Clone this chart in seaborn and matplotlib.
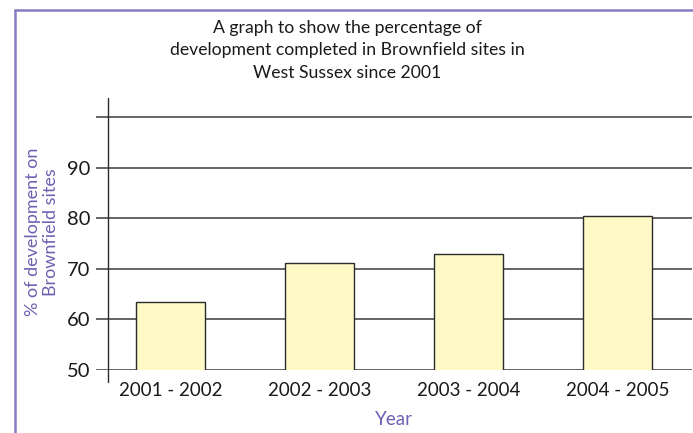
import matplotlib
matplotlib.use("Agg")
import matplotlib.pyplot as plt
import pandas as pd
import seaborn as sns
from matplotlib.lines import Line2D

periods = ["2001 - 2002", "2002 - 2003", "2003 - 2004", "2004 - 2005"]
brownfield_pct = [63.4, 71.1, 72.9, 80.4]
y_ticks = [50, 60, 70, 80, 90]
grid_levels = [50, 60, 70, 80, 90, 100]

title = ("A graph to show the percentage of\n"
         "development completed in Brownfield sites in\n"
         "West Sussex since 2001")
y_label = "% of development on\nBrownfield sites"
x_label = "Year"

purple = "#6e60b2"
frame_purple = "#8a7cc4"
ink = "#2b2b2b"
bar_fill = "#fff9c6"

sns.set_style("white")
plt.rcParams["font.family"] = ["Lato", "DejaVu Sans"]

W, H = 693, 433
fig = plt.figure(figsize=(W / 100, H / 100), dpi=100)
ax = fig.add_axes([96 / W, 63 / H, 596 / W, 272 / H])

df = pd.DataFrame({"period": periods, "pct": brownfield_pct})
sns.barplot(data=df, x="period", y="pct", color=bar_fill, saturation=1,
            width=0.465, edgecolor=ink, linewidth=1.0, ax=ax, zorder=2)

ax.set_xlim(-0.5, 3.5)
ax.set_ylim(50, 103.8)
for s in ax.spines.values():
    s.set_visible(False)

for lvl in grid_levels:
    ax.axhline(lvl, color="#3a3a3a", lw=1.1, zorder=1)

# y axis line, sitting a little inside the left edge and poking below the x axis
ax.axvline(-0.5 + 12 / 149, ymin=-12 / 272, ymax=1, color=ink, lw=1.0, clip_on=False)

ax.set_yticks(y_ticks)
ax.tick_params(axis="y", length=0, pad=4, labelsize=14.5, labelcolor="#1a1a1a")
ax.set_xticks([0.5, 1.5, 2.5, 3.5], minor=True)
ax.tick_params(axis="x", which="minor", length=8.6, width=1, color="#555555", direction="out")
ax.tick_params(axis="x", which="major", length=0, pad=9, labelsize=13.5, labelcolor="#1a1a1a")

ax.set_xlabel(x_label, color=purple, fontsize=13.5, labelpad=8)
ax.set_ylabel("")

fig.text(42 / W, 1 - 232 / H, y_label, rotation=90, ha="center", va="center",
         multialignment="center", color=purple, fontsize=13, linespacing=1.1)
fig.text(347 / W, 1 - 20 / H, title, ha="center", va="top", fontsize=12.7,
         linespacing=1.5, color="#1a1a1a")

# purple frame on the top and left
fig.add_artist(Line2D([15 / W, 1], [1 - 10 / H, 1 - 10 / H], color=frame_purple, lw=1.8))
fig.add_artist(Line2D([15 / W, 15 / W], [0, 1 - 10 / H], color=frame_purple, lw=1.8))

fig.savefig("out.png", dpi=100)
